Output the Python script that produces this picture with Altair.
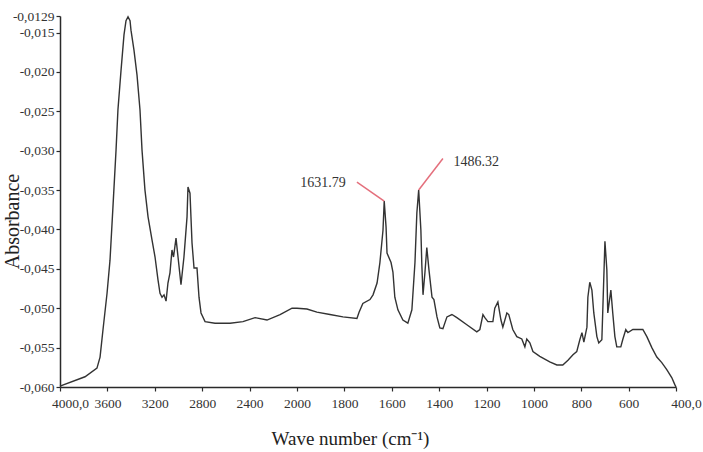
import altair as alt
import pandas as pd

# ---- spectrum ----
wavenumber = [4000, 3789, 3688, 3662, 3637, 3603, 3578, 3553, 3527, 3511, 3485, 3460, 3443,
              3426, 3409, 3401, 3376, 3350, 3325, 3308, 3283, 3257, 3224, 3198, 3173, 3156,
              3139, 3122, 3105, 3089, 3072, 3055, 3042, 3021, 3004, 2979, 2954, 2928, 2920,
              2903, 2886, 2869, 2844, 2827, 2810, 2776, 2692, 2565, 2456, 2354, 2253, 2143,
              2042, 2000, 1958, 1916, 1861, 1806, 1747, 1738, 1722, 1692, 1679, 1662, 1650,
              1637, 1631.79, 1624, 1620, 1603, 1595, 1587, 1574, 1553, 1532, 1515, 1502, 1494,
              1486.32, 1477, 1473, 1468, 1460, 1452, 1443, 1430, 1422, 1409, 1397, 1384, 1367,
              1346, 1325, 1283, 1241, 1228, 1215, 1207, 1194, 1173, 1165, 1152, 1139, 1131,
              1114, 1106, 1089, 1072, 1051, 1038, 1030, 1017, 1004, 975, 933, 903, 878, 856,
              835, 819, 806, 797, 789, 776, 772, 764, 755, 747, 734, 726, 713, 709, 700, 692,
              688, 675, 667, 658, 650, 633, 625, 612, 603, 582, 540, 523, 502, 481, 460, 439,
              418, 405, 400]
absorbance = [-0.0599, -0.0587, -0.0576, -0.0562, -0.0527, -0.0481, -0.0439, -0.0371, -0.0299,
              -0.0248, -0.0198, -0.0153, -0.0135, -0.0130, -0.0135, -0.0147, -0.0172, -0.0204,
              -0.0248, -0.0299, -0.0350, -0.0384, -0.0413, -0.0435, -0.0464, -0.0481, -0.0486,
              -0.0483, -0.0491, -0.0468, -0.0455, -0.0426, -0.0435, -0.0411, -0.0435, -0.0470,
              -0.0435, -0.0384, -0.0346, -0.0354, -0.0417, -0.0449, -0.0449, -0.0486, -0.0506,
              -0.0517, -0.0519, -0.0519, -0.0517, -0.0512, -0.0515, -0.0508, -0.0500, -0.0500,
              -0.0501, -0.0505, -0.0508, -0.0511, -0.0513, -0.0505, -0.0494, -0.0489, -0.0483,
              -0.0468, -0.0442, -0.0401, -0.0364, -0.0397, -0.0430, -0.0442, -0.0454, -0.0486,
              -0.0502, -0.0515, -0.0519, -0.0502, -0.0442, -0.0379, -0.0350, -0.0401, -0.0445,
              -0.0483, -0.0455, -0.0423, -0.0451, -0.0486, -0.0489, -0.0511, -0.0525, -0.0526,
              -0.0511, -0.0508, -0.0512, -0.0521, -0.0530, -0.0527, -0.0508, -0.0512, -0.0517,
              -0.0517, -0.0500, -0.0492, -0.0515, -0.0524, -0.0506, -0.0508, -0.0527, -0.0536,
              -0.0539, -0.0549, -0.0539, -0.0544, -0.0555, -0.0561, -0.0568, -0.0572, -0.0572,
              -0.0566, -0.0559, -0.0555, -0.0540, -0.0531, -0.0543, -0.0524, -0.0486, -0.0467,
              -0.0477, -0.0506, -0.0536, -0.0544, -0.0540, -0.0502, -0.0415, -0.0451, -0.0506,
              -0.0477, -0.0506, -0.0536, -0.0549, -0.0549, -0.0540, -0.0527, -0.0531, -0.0527,
              -0.0527, -0.0536, -0.0550, -0.0562, -0.0569, -0.0578, -0.0588, -0.0597, -0.0600]

# ---- axes ----
x_ticks = [4000, 3600, 3200, 2800, 2400, 2000, 1800, 1600, 1400, 1200, 1000, 800, 600, 400]
x_tick_labels = ["4000,0", "3600", "3200", "2800", "2400", "2000", "1800", "1600", "1400",
                 "1200", "1000", "800", "600", "400,0"]
y_ticks = [-0.0129, -0.015, -0.020, -0.025, -0.030, -0.035, -0.040, -0.045, -0.050, -0.055, -0.060]
y_tick_labels = ["-0,0129", "-0,015", "-0,020", "-0,025", "-0,030", "-0,035", "-0,040",
                 "-0,045", "-0,050", "-0,055", "-0,060"]

# ---- peak annotations ----
peak_labels = ["1631.79", "1486.32"]
peak_wn = [1631.79, 1486.32]
peak_abs = [-0.0364, -0.0350]
leader_wn = [1747, 1384]
leader_abs = [-0.0340, -0.0310]
label_wn = [1890, 1243]
label_abs = [-0.0341, -0.0314]

spec = pd.DataFrame({"wn": wavenumber, "a": absorbance})
ann = pd.DataFrame({"label": peak_labels, "pw": peak_wn, "pa": peak_abs,
                    "lw": leader_wn, "la": leader_abs, "tw": label_wn, "ta": label_abs})


def label_expr(values, labels):
    expr = "''"
    for v, l in reversed(list(zip(values, labels))):
        expr = f"abs(datum.value - ({v})) < 1e-7 ? '{l}' : ({expr})"
    return expr


FONT = "Liberation Serif"
AX = "#2a2a2a"

x_scale = alt.Scale(domain=[4000, 2000, 400], range=[0, 237, 616])
y_scale = alt.Scale(domain=[-0.060, -0.0129])

x_axis = alt.Axis(values=x_ticks, labelExpr=label_expr(x_ticks, x_tick_labels), grid=False,
                  title="Wave number (cm⁻¹)", titleX=290, titleY=57, titleAlign="center",
                  titleBaseline="alphabetic", titleFontSize=19, labelFontSize=13.5,
                  labelFlush=False, labelOverlap=False, tickSize=4, labelPadding=5,
                  labelOffset={"condition": {"test": "datum.value == 4000 || datum.value == 400",
                                             "value": 10}, "value": 0})
y_axis = alt.Axis(values=y_ticks, labelExpr=label_expr(y_ticks, y_tick_labels), grid=False,
                  title="Absorbance", titleX=-42, titleY=205, titleAngle=270,
                  titleAlign="center", titleBaseline="alphabetic", titleFontSize=20,
                  labelFontSize=13.5, labelFlush=False, labelOverlap=False, tickSize=4,
                  labelPadding=2)

line = alt.Chart(spec).mark_line(color="#333333", strokeWidth=1.4).encode(
    x=alt.X("wn:Q", scale=x_scale, axis=x_axis),
    y=alt.Y("a:Q", scale=y_scale, axis=y_axis),
)

rules = alt.Chart(ann).mark_rule(color="#e46f7c", strokeWidth=1.5).encode(
    x=alt.X("pw:Q", scale=x_scale, axis=x_axis), y=alt.Y("pa:Q", scale=y_scale, axis=y_axis),
    x2="lw:Q", y2="la:Q",
)

texts = alt.Chart(ann).mark_text(font=FONT, fontSize=14, color="#333333",
                                 align="center", baseline="middle").encode(
    x=alt.X("tw:Q", scale=x_scale, axis=x_axis), y=alt.Y("ta:Q", scale=y_scale, axis=y_axis),
    text="label:N",
)

chart = alt.layer(line, rules, texts).properties(
    width=616, height=371, autosize="none",
    padding={"left": 60, "top": 16, "right": 27, "bottom": 65},
    background="white",
).configure_view(stroke=None).configure_axis(
    labelFont=FONT, titleFont=FONT, titleFontWeight="normal", labelColor="#333333",
    titleColor="#222222", domainColor=AX, tickColor=AX, domainWidth=1.5, tickWidth=1.2,
    labelOverlap=False,
).configure_axisY(labelOverlap=False)

chart.save("out.html", embed_options={"renderer": "svg", "actions": False})
